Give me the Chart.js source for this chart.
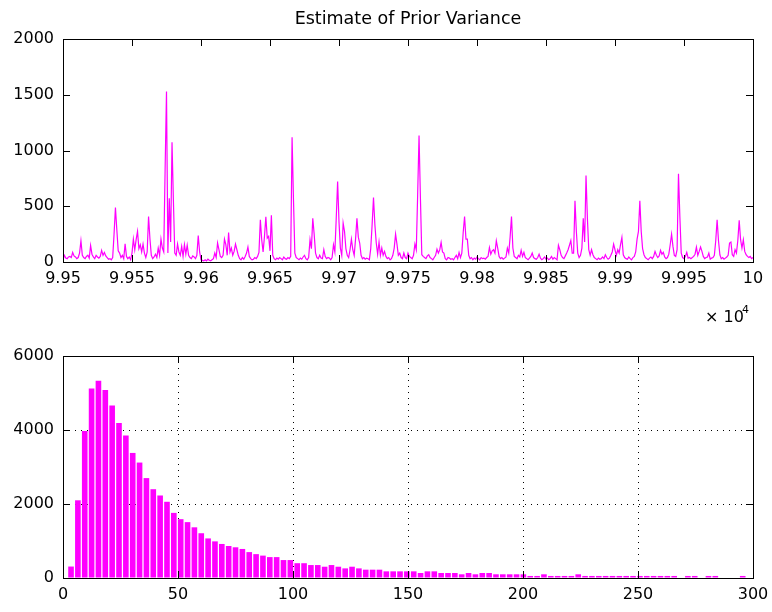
<!DOCTYPE html>
<html>
<head>
<meta charset="utf-8">
<title>Estimate of Prior Variance</title>
<script src="https://cdn.jsdelivr.net/npm/chart.js@4.4.1/dist/chart.umd.min.js"></script>
<style>
  body { margin: 0; background: #fff; }
  canvas { position: absolute; left: 0; }
  #traceChart { top: 0; }
  #histChart { top: 340px; }
</style>
</head>
<body>
<canvas id="traceChart" width="772" height="340"></canvas>
<canvas id="histChart" width="772" height="272"></canvas>
<script>
var chartTitle = 'Estimate of Prior Variance';

// sampled prior variance, one value per iteration starting at 99500
var iterStart = 99500;
var priorVar = [
    20, 59, 35, 30, 45, 50, 40, 86, 55, 45, 30, 40, 80, 190, 60, 40, 30, 50, 60, 35, 148, 70, 45, 30, 60,
    45, 35, 50, 104, 60, 86, 55, 40, 25, 30, 20, 40, 250, 489, 289, 100, 80, 40, 60, 30, 164, 50, 30, 45, 20,
    80, 205, 110, 200, 274, 120, 155, 90, 160, 80, 40, 90, 408, 208, 60, 30, 45, 70, 40, 125, 60, 205, 125, 90, 832,
    1528, 80, 572, 180, 1074, 549, 80, 60, 160, 90, 60, 140, 50, 155, 70, 150, 60, 40, 30, 55, 45, 30, 60, 238, 90,
    20, 15, 10, 20, 10, 25, 15, 10, 20, 30, 80, 40, 170, 110, 50, 40, 60, 205, 155, 60, 265, 90, 125, 60, 95,
    160, 110, 60, 30, 20, 40, 25, 50, 80, 134, 50, 30, 20, 25, 40, 30, 50, 86, 379, 200, 90, 230, 405, 214, 230,
    100, 420, 60, 30, 20, 35, 25, 40, 30, 20, 45, 30, 25, 40, 30, 50, 1119, 564, 80, 40, 30, 20, 35, 25, 45,
    60, 30, 20, 40, 200, 120, 393, 250, 80, 40, 30, 60, 35, 30, 110, 50, 30, 40, 35, 20, 40, 155, 90, 393, 722,
    358, 125, 60, 349, 274, 120, 60, 40, 110, 205, 110, 60, 205, 393, 223, 170, 60, 30, 40, 25, 35, 30, 20, 120, 334,
    579, 334, 170, 70, 179, 60, 125, 60, 95, 50, 30, 40, 20, 30, 60, 125, 250, 160, 60, 80, 40, 30, 80, 40, 30,
    80, 50, 40, 30, 60, 160, 110, 603, 1134, 573, 65, 50, 40, 30, 55, 65, 40, 30, 20, 40, 60, 115, 80, 110, 175,
    90, 80, 30, 20, 40, 35, 25, 30, 20, 40, 60, 30, 86, 40, 80, 265, 408, 205, 205, 60, 30, 40, 20, 35, 25,
    45, 30, 20, 40, 30, 35, 25, 40, 50, 130, 70, 100, 110, 80, 190, 125, 50, 30, 40, 25, 35, 45, 125, 80, 223,
    408, 125, 50, 40, 30, 60, 45, 104, 50, 86, 40, 30, 20, 35, 50, 80, 40, 30, 25, 40, 70, 35, 20, 30, 45,
    25, 35, 20, 30, 50, 25, 40, 30, 20, 150, 110, 60, 40, 30, 55, 80, 110, 150, 193, 80, 80, 549, 274, 80, 40,
    60, 125, 393, 180, 776, 393, 110, 60, 110, 65, 40, 30, 20, 35, 25, 30, 45, 30, 65, 40, 25, 35, 60, 90, 160,
    110, 60, 110, 80, 155, 220, 65, 40, 30, 25, 45, 30, 20, 40, 50, 90, 205, 274, 549, 274, 120, 65, 40, 30, 20,
    35, 45, 30, 50, 95, 60, 40, 55, 104, 70, 86, 45, 30, 40, 70, 155, 250, 140, 60, 50, 110, 791, 408, 80, 40,
    30, 50, 86, 35, 40, 30, 40, 50, 70, 134, 60, 95, 134, 95, 50, 30, 40, 45, 80, 25, 35, 40, 60, 190, 379,
    190, 65, 30, 40, 25, 35, 45, 60, 170, 179, 65, 50, 110, 80, 193, 373, 200, 125, 200, 95, 65, 50, 40, 50, 30,
    40
];
var traceTicks = { min: 99500, max: 100000, step: 50 };
var varTicks = { min: 0, max: 2000, step: 500 };

// histogram of the same variable, 99 bins
var binLo = 2.0;
var binWidth = 2.98;
var binCounts = [
    310, 2100, 3970, 5120, 5330, 5080, 4660, 4190, 3850, 3380, 3120, 2700, 2400, 2230, 2060, 1760, 1590, 1510, 1370, 1210,
    1070, 990, 920, 865, 830, 785, 700, 645, 605, 565, 565, 485, 485, 400, 400, 350, 350, 305, 350, 305,
    260, 305, 260, 225, 225, 225, 180, 180, 180, 180, 180, 135, 180, 180, 135, 135, 135, 100, 135, 100,
    135, 135, 100, 100, 100, 100, 100, 55, 55, 100, 55, 55, 55, 55, 100, 55, 55, 55, 55, 55,
    55, 55, 55, 55, 55, 55, 55, 55, 55, 0, 55, 55, 0, 55, 55, 0, 0, 0, 55
];
var histTicksX = { min: 0, max: 300, step: 50 };
var histTicksY = { min: 0, max: 6000, step: 2000 };

Chart.defaults.font.family = '"DejaVu Sans", sans-serif';
Chart.defaults.font.size = 16;
Chart.defaults.color = '#000';

var tracePoints = [];
for (var i = 0; i < priorVar.length; i++) {
    tracePoints.push({ x: iterStart + i, y: priorVar[i] });
}

var histPoints = [];
for (var k = 0; k < binCounts.length; k++) {
    histPoints.push({ x: binLo + binWidth * (k + 0.5), y: binCounts[k] });
}

function plainNumber(v) { return String(v); }

// fixed axis sizes, and no extra room for the end labels
function fixSize(w, h) {
    return function (s) {
        if (w) s.width = w;
        if (h) s.height = h;
        s.paddingLeft = s.paddingRight = s.paddingTop = s.paddingBottom = 0;
    };
}

// matlab style box: frame all round with short ticks pointing inwards
var boxTicks = {
    id: 'boxTicks',
    afterDraw: function (chart) {
        var ctx = chart.ctx, a = chart.chartArea;
        var xs = chart.scales.x, ys = chart.scales.y;
        var len = 7;
        ctx.save();
        ctx.strokeStyle = '#000';
        ctx.lineWidth = 1;
        ctx.beginPath();
        xs.ticks.forEach(function (t) {
            var px = Math.round(xs.getPixelForValue(t.value)) + 0.5;
            ctx.moveTo(px, a.bottom); ctx.lineTo(px, a.bottom - len);
            ctx.moveTo(px, a.top); ctx.lineTo(px, a.top + len);
        });
        ys.ticks.forEach(function (t) {
            var py = Math.round(ys.getPixelForValue(t.value)) + 0.5;
            ctx.moveTo(a.left, py); ctx.lineTo(a.left + len, py);
            ctx.moveTo(a.right, py); ctx.lineTo(a.right - len, py);
        });
        ctx.stroke();
        ctx.strokeRect(Math.round(a.left) + 0.5, Math.round(a.top) + 0.5,
            Math.round(a.right - a.left), Math.round(a.bottom - a.top));
        ctx.restore();
    }
};

var traceText = {
    id: 'traceText',
    afterDraw: function (chart) {
        var ctx = chart.ctx, a = chart.chartArea;
        ctx.save();
        ctx.fillStyle = '#000';
        ctx.textBaseline = 'middle';
        ctx.textAlign = 'center';
        ctx.font = '17.5px "DejaVu Sans"';
        ctx.fillText(chartTitle, (a.left + a.right) / 2, 19);
        // exponent of the iteration axis
        ctx.textAlign = 'left';
        ctx.font = '16px "DejaVu Sans"';
        ctx.fillText('\u00d7 10', a.right - 48, 318);
        ctx.font = '11px "DejaVu Sans"';
        ctx.fillText('4', a.right - 11, 310);
        ctx.restore();
    }
};

new Chart(document.getElementById('traceChart'), {
    type: 'line',
    data: {
        datasets: [{
            data: tracePoints,
            borderColor: '#ff00ff',
            borderWidth: 1.2,
            pointRadius: 0,
            tension: 0,
            fill: false
        }]
    },
    options: {
        responsive: false,
        animation: false,
        layout: { padding: { top: 39, right: 19, left: 0, bottom: 0 } },
        plugins: { legend: { display: false }, tooltip: { enabled: false } },
        scales: {
            x: {
                type: 'linear',
                min: traceTicks.min,
                max: traceTicks.max,
                grid: { display: false, drawTicks: false },
                border: { display: false },
                ticks: {
                    stepSize: traceTicks.step,
                    autoSkip: false,
                    maxRotation: 0,
                    padding: 7,
                    callback: function (v) { return String(+(v / 1e4).toFixed(4)); }
                },
                afterFit: fixSize(0, 78)
            },
            y: {
                min: varTicks.min,
                max: varTicks.max,
                grid: { display: false, drawTicks: false },
                border: { display: false },
                ticks: { stepSize: varTicks.step, padding: 9, callback: plainNumber },
                afterFit: fixSize(63, 0)
            }
        }
    },
    plugins: [boxTicks, traceText]
});

new Chart(document.getElementById('histChart'), {
    type: 'bar',
    data: {
        datasets: [{
            data: histPoints,
            backgroundColor: '#ff00ff',
            borderWidth: 0,
            barPercentage: 0.82,
            categoryPercentage: 1
        }]
    },
    options: {
        responsive: false,
        animation: false,
        layout: { padding: { top: 16, right: 19, left: 0, bottom: 0 } },
        plugins: { legend: { display: false }, tooltip: { enabled: false } },
        scales: {
            x: {
                type: 'linear',
                offset: false,
                min: histTicksX.min,
                max: histTicksX.max,
                grid: { offset: false, drawTicks: false, color: '#000', lineWidth: 1 },
                border: { display: false, dash: [1, 5] },
                ticks: { stepSize: histTicksX.step, autoSkip: false, maxRotation: 0, padding: 7, callback: plainNumber },
                afterFit: fixSize(0, 34)
            },
            y: {
                min: histTicksY.min,
                max: histTicksY.max,
                grid: { drawTicks: false, color: '#000', lineWidth: 1 },
                border: { display: false, dash: [1, 5] },
                ticks: { stepSize: histTicksY.step, padding: 9, callback: plainNumber },
                afterFit: fixSize(63, 0)
            }
        }
    },
    plugins: [boxTicks]
});
</script>
</body>
</html>
